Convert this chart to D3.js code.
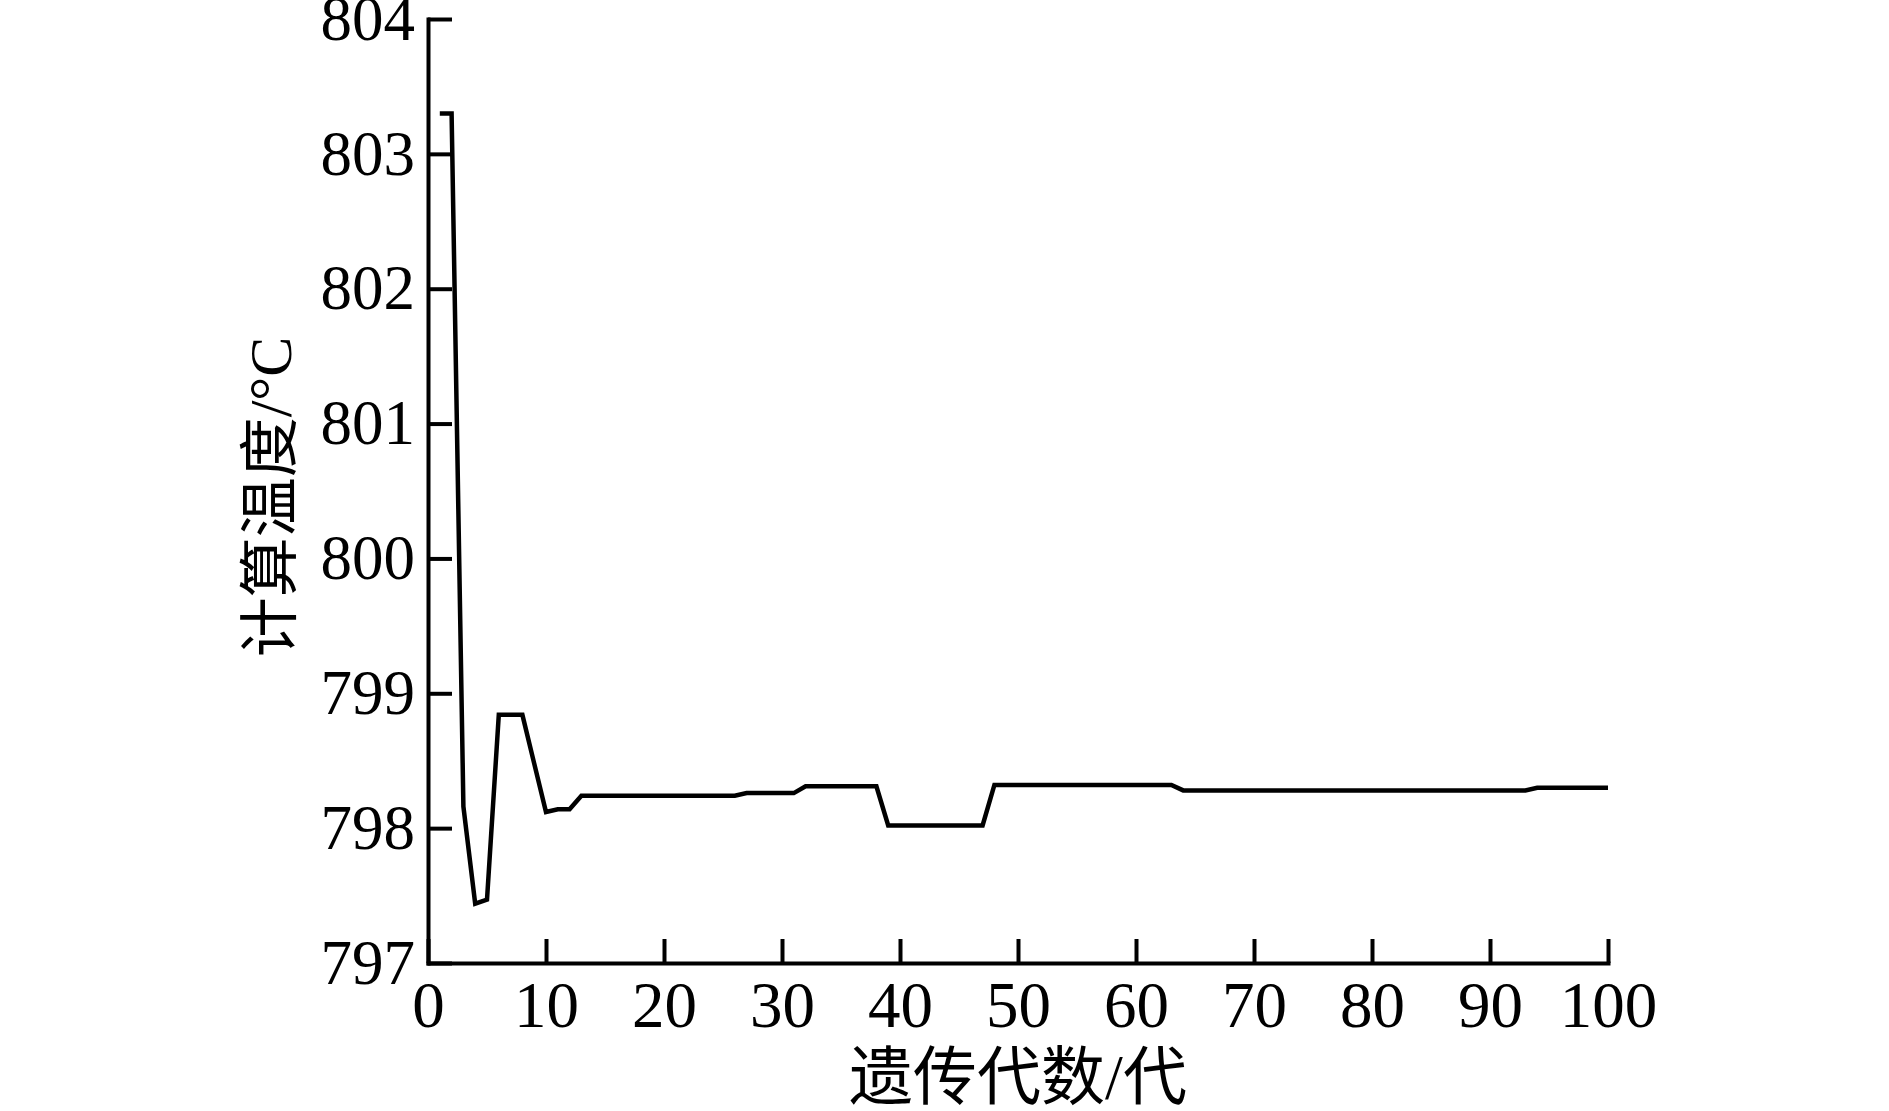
<!DOCTYPE html>
<html>
<head>
<meta charset="utf-8">
<script src="https://cdn.jsdelivr.net/npm/d3@7"></script>
<style>
  body { margin: 0; background: #fff; }
  svg { display: block; }
  .axis path, .axis line { stroke: #000; stroke-width: 4; }
  .axis text { fill: #000; font-family: "Liberation Serif", "Times New Roman", serif; }
  .title { font-family: "Liberation Serif", "Noto Sans CJK SC", serif; fill: #000; }
</style>
</head>
<body>
<div id="chart"></div>
<script>
// generations (x) and calculated temperature (y)
var generations = [
  1, 2, 3, 4, 5, 6, 7, 8, 9, 10,
  11, 12, 13, 14, 15, 16, 17, 18, 19, 20,
  21, 22, 23, 24, 25, 26, 27, 28, 29, 30,
  31, 32, 33, 34, 35, 36, 37, 38, 39, 40,
  41, 42, 43, 44, 45, 46, 47, 48, 49, 50,
  51, 52, 53, 54, 55, 56, 57, 58, 59, 60,
  61, 62, 63, 64, 65, 66, 67, 68, 69, 70,
  71, 72, 73, 74, 75, 76, 77, 78, 79, 80,
  81, 82, 83, 84, 85, 86, 87, 88, 89, 90,
  91, 92, 93, 94, 95, 96, 97, 98, 99, 100
];
var temps = [
  803.30, 803.30, 798.16, 797.44, 797.47, 798.84, 798.84, 798.84, 798.48, 798.12,
  798.14, 798.14, 798.24, 798.24, 798.24, 798.24, 798.24, 798.24, 798.24, 798.24,
  798.24, 798.24, 798.24, 798.24, 798.24, 798.24, 798.26, 798.26, 798.26, 798.26,
  798.26, 798.31, 798.31, 798.31, 798.31, 798.31, 798.31, 798.31, 798.02, 798.02,
  798.02, 798.02, 798.02, 798.02, 798.02, 798.02, 798.02, 798.32, 798.32, 798.32,
  798.32, 798.32, 798.32, 798.32, 798.32, 798.32, 798.32, 798.32, 798.32, 798.32,
  798.32, 798.32, 798.32, 798.28, 798.28, 798.28, 798.28, 798.28, 798.28, 798.28,
  798.28, 798.28, 798.28, 798.28, 798.28, 798.28, 798.28, 798.28, 798.28, 798.28,
  798.28, 798.28, 798.28, 798.28, 798.28, 798.28, 798.28, 798.28, 798.28, 798.28,
  798.28, 798.28, 798.28, 798.30, 798.30, 798.30, 798.30, 798.30, 798.30, 798.30
];
var xTicks = [0, 10, 20, 30, 40, 50, 60, 70, 80, 90, 100];
var yTicks = [797, 798, 799, 800, 801, 802, 803, 804];
var xTitle = "遗传代数/代";
var yTitle = "计算温度/°C";

// svg size and margins
var svgWidth = 1889;
var svgHeight = 1111;
var margin = { top: 19, right: 281, bottom: 148, left: 428 };
var chartWidth = svgWidth - margin.left - margin.right;
var chartHeight = svgHeight - margin.top - margin.bottom;

var svg = d3.select("#chart")
  .append("svg")
  .attr("width", svgWidth)
  .attr("height", svgHeight);

var chartGroup = svg.append("g")
  .attr("transform", `translate(${margin.left}, ${margin.top})`);

var xScale = d3.scaleLinear().domain([0, 100]).range([0, chartWidth]);
var yScale = d3.scaleLinear().domain([797, 804]).range([chartHeight, 0]);

// axes, ticks pointing inward
var yAxis = d3.axisLeft(yScale).tickValues(yTicks)
  .tickSizeInner(-24).tickSizeOuter(0).tickPadding(13)
  .tickFormat(d3.format("d"));
var xAxis = d3.axisBottom(xScale).tickValues(xTicks)
  .tickSizeInner(-24).tickSizeOuter(0).tickPadding(18)
  .tickFormat(d3.format("d"));

var yG = chartGroup.append("g")
  .attr("class", "axis")
  .call(yAxis);
yG.selectAll("text").attr("font-size", 63).attr("dy", "0.32em");

var xG = chartGroup.append("g")
  .attr("class", "axis")
  .attr("transform", `translate(0, ${chartHeight})`)
  .call(xAxis);
xG.selectAll("text").attr("font-size", 65);
chartGroup.selectAll(".axis path.domain").attr("stroke-linecap", "square");

// data line
var drawLine = d3.line()
  .x((d, i) => xScale(generations[i]))
  .y(d => yScale(d));

chartGroup.append("path")
  .attr("d", drawLine(temps))
  .attr("fill", "none")
  .attr("stroke", "#000")
  .attr("stroke-width", 4.5)
  .attr("stroke-linejoin", "miter");

// axis titles
svg.append("text")
  .attr("class", "title")
  .attr("x", margin.left + chartWidth / 2)
  .attr("y", 1099)
  .attr("text-anchor", "middle")
  .attr("font-size", 64)
  .text(xTitle);

svg.append("text")
  .attr("class", "title")
  .attr("transform", "translate(291, 497) rotate(-90)")
  .attr("text-anchor", "middle")
  .attr("font-size", 60)
  .text(yTitle);
</script>
</body>
</html>
